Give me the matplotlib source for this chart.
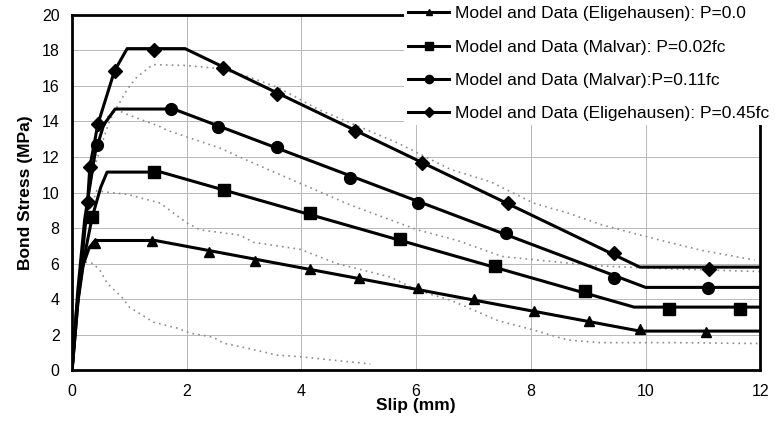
import numpy as np
import matplotlib
matplotlib.use("Agg")
import matplotlib.pyplot as plt

plt.rcParams['font.family'] = ['Liberation Sans', 'DejaVu Sans']

# model curves (vertices) and marker positions
m1_x = [0, 0.08, 0.18, 0.3, 0.4, 1.45, 9.9, 12]
m1_y = [0, 3.5, 5.8, 6.9, 7.3, 7.3, 2.2, 2.2]
m1_mx = [0.4, 1.4, 2.38, 3.19, 4.15, 5.0, 6.04, 7.0, 8.06, 9.02, 9.9, 11.06]
m1_my = [7.15, 7.27, 6.65, 6.14, 5.69, 5.18, 4.6, 4.0, 3.32, 2.76, 2.3, 2.14]

m2_x = [0, 0.1, 0.22, 0.35, 0.5, 0.61, 1.55, 9.8, 12]
m2_y = [0, 3.8, 6.5, 8.6, 10.3, 11.15, 11.15, 3.55, 3.55]
m2_mx = [0.35, 1.43, 2.65, 4.15, 5.72, 7.38, 8.95, 10.4, 11.65]
m2_my = [8.6, 11.16, 10.14, 8.84, 7.38, 5.86, 4.45, 3.45, 3.45]

m3_x = [0, 0.1, 0.22, 0.4, 0.55, 0.75, 1.77, 10.0, 12]
m3_y = [0, 4.5, 8.5, 12.2, 13.8, 14.7, 14.7, 4.66, 4.66]
m3_mx = [0.43, 1.72, 2.55, 3.57, 4.85, 6.04, 7.57, 9.45, 11.08]
m3_my = [12.7, 14.7, 13.7, 12.57, 10.83, 9.4, 7.7, 5.19, 4.62]

m4_x = [0, 0.12, 0.27, 0.31, 0.45, 0.74, 0.96, 1.97, 9.9, 12]
m4_y = [0, 4.5, 9.45, 11.45, 13.85, 16.85, 18.1, 18.1, 5.8, 5.8]
m4_mx = [0.27, 0.31, 0.45, 0.74, 1.43, 2.63, 3.57, 4.94, 6.1, 7.6, 9.45, 11.1]
m4_my = [9.45, 11.45, 13.85, 16.85, 18.03, 17.0, 15.55, 13.46, 11.66, 9.42, 6.58, 5.7]

# measured data (dotted)
d1_x = [0, 0.05, 0.12, 0.2, 0.37, 0.49, 0.61, 0.87, 1.0, 1.42, 1.83, 2.06, 2.46, 2.64, 3.05, 3.57, 4.0, 4.56, 5.2]
d1_y = [0, 2.0, 4.5, 6.1, 6.0, 5.6, 4.9, 4.1, 3.55, 2.7, 2.37, 2.08, 1.86, 1.52, 1.24, 0.85, 0.75, 0.56, 0.35]

d2_x = [0, 0.1, 0.25, 0.43, 0.66, 0.96, 1.54, 1.77, 2.0, 2.23, 2.93, 3.16, 3.98, 4.62, 5.55, 6.02, 6.6, 7.42, 8.0, 8.64, 9.2, 10.5, 12]
d2_y = [0, 4, 8.5, 10.1, 10.0, 9.9, 9.4, 8.84, 8.3, 7.9, 7.6, 7.2, 6.8, 6.0, 5.24, 4.5, 3.94, 2.8, 2.3, 1.7, 1.55, 1.55, 1.5]

d3_x = [0, 0.1, 0.25, 0.45, 0.6, 0.75, 0.96, 1.54, 1.66, 2.58, 3.16, 3.63, 4.85, 6.02, 6.72, 7.5, 9.04, 10.0, 12]
d3_y = [0, 4, 9, 12.8, 14.2, 14.7, 14.4, 13.7, 13.5, 12.5, 11.66, 11.0, 9.3, 7.9, 7.3, 6.4, 5.9, 5.75, 5.55]

d4_x = [0, 0.15, 0.3, 0.54, 0.66, 0.96, 1.13, 1.41, 2.0, 2.5, 3.0, 3.6, 4.28, 5.67, 6.6, 7.3, 8.05, 8.64, 9.22, 9.8, 10.4, 10.97, 11.9]
d4_y = [0, 6, 10.5, 12.95, 14.1, 15.8, 16.5, 17.2, 17.15, 17.0, 16.6, 15.9, 14.7, 12.8, 11.3, 10.6, 9.4, 8.85, 8.2, 7.7, 7.2, 6.75, 6.2]

labels = ["Model and Data (Eligehausen): P=0.0",
          "Model and Data (Malvar): P=0.02fc",
          "Model and Data (Malvar):P=0.11fc",
          "Model and Data (Eligehausen): P=0.45fc"]

fig = plt.figure(figsize=(7.75, 4.25), dpi=100)
ax = fig.add_axes([0.093, 0.129, 0.888, 0.836])

for dx, dy in [(d1_x, d1_y), (d2_x, d2_y), (d3_x, d3_y), (d4_x, d4_y)]:
    ax.plot(dx, dy, color='0.55', lw=1.2, ls=(0, (1, 2.5)), zorder=2)

models = [(m1_x, m1_y, m1_mx, m1_my, '^', 7),
          (m2_x, m2_y, m2_mx, m2_my, 's', 8),
          (m3_x, m3_y, m3_mx, m3_my, 'o', 8.5),
          (m4_x, m4_y, m4_mx, m4_my, 'D', 7)]
handles = []
for (x, y, mx, my, mk, ms), lab in zip(models, labels):
    ax.plot(x, y, color='black', lw=2.2, zorder=3)
    ax.plot(mx, my, ls='none', marker=mk, ms=ms, color='black', zorder=4)
    h, = ax.plot([], [], color='black', lw=2.2, marker=mk, ms=ms * 0.7, label=lab)
    handles.append(h)

ax.set_xlim(0, 12)
ax.set_ylim(0, 20)
ax.set_xticks(np.arange(0, 13, 2))
ax.set_yticks(np.arange(0, 21, 2))
ax.grid(True, color='0.72', lw=0.7)
ax.tick_params(length=0, labelsize=11.5)
ax.tick_params(axis='x', pad=10)
ax.tick_params(axis='y', pad=9)
for s in ax.spines.values():
    s.set_linewidth(2)
ax.set_xlabel('Slip (mm)', fontweight='bold', fontsize=12.5, labelpad=-1)
ax.set_ylabel('Bond Stress (MPa)', fontweight='bold', fontsize=12.5, labelpad=6)

leg = fig.legend(handles=handles, loc='upper right', bbox_to_anchor=(1.0, 1.0),
                 fontsize=12.5, handlelength=2.4, labelspacing=1.05,
                 frameon=True, fancybox=False, framealpha=1, edgecolor='none',
                 borderaxespad=0.15, borderpad=0.2, handletextpad=0.3)

fig.savefig('out.png', dpi=100)
